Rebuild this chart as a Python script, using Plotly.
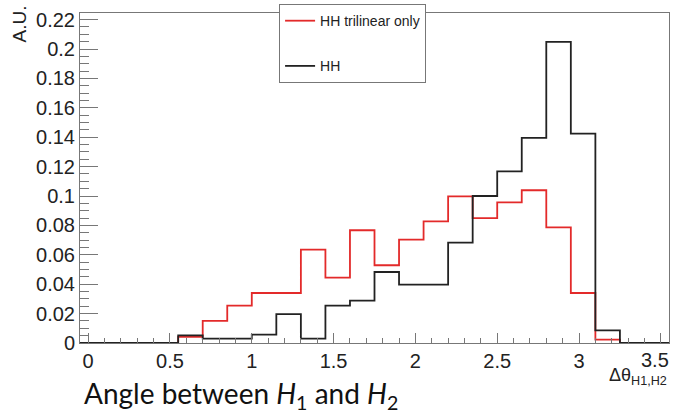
import plotly.graph_objects as go

# Bin edges (width 0.15, from -0.05 to 3.55)
bin_edges = [-0.05, 0.10, 0.25, 0.40, 0.55, 0.70, 0.85, 1.00, 1.15, 1.30, 1.45, 1.60,
             1.75, 1.90, 2.05, 2.20, 2.35, 2.50, 2.65, 2.80, 2.95, 3.10, 3.25, 3.40, 3.55]

hh_trilinear = [0, 0, 0, 0, 0.0041, 0.0150, 0.0254, 0.0340, 0.0340, 0.0635, 0.0445, 0.0767,
                0.0529, 0.0703, 0.0828, 0.0998, 0.0850, 0.0957, 0.1039, 0.0787, 0.0340, 0.0023, 0, 0]
hh_total = [0, 0, 0, 0, 0.0052, 0.0030, 0.0030, 0.0057, 0.0197, 0.0030, 0.0254, 0.0288,
            0.0483, 0.0397, 0.0397, 0.0683, 0.1000, 0.1168, 0.1395, 0.2048, 0.1424, 0.0086, 0, 0]

y_tickvals = [0, 0.02, 0.04, 0.06, 0.08, 0.1, 0.12, 0.14, 0.16, 0.18, 0.2, 0.22]
y_ticktext = ["0", "0.02", "0.04", "0.06", "0.08", "0.1", "0.12", "0.14", "0.16", "0.18", "0.2", "0.22"]
x_tickvals = [0, 0.5, 1, 1.5, 2, 2.5, 3]
x_ticktext = ["0", "0.5", "1", "1.5", "2", "2.5", "3"]
x_last_tick = 3.5
x_last_label = "3.5"

fig = go.Figure()
fig.add_trace(go.Scatter(x=bin_edges, y=hh_trilinear + [hh_trilinear[-1]], mode="lines",
                         line=dict(shape="hv", color="#e32a2a", width=1.8),
                         name="HH trilinear only", legendgroup="a"))
fig.add_trace(go.Scatter(x=bin_edges, y=hh_total + [hh_total[-1]], mode="lines",
                         line=dict(shape="hv", color="#222222", width=1.8),
                         name="HH", legendgroup="b"))

axis_font = dict(family="Liberation Sans, Arial, sans-serif", size=20, color="#222")
fig.update_layout(
    width=673, height=413,
    margin=dict(l=80, r=4, t=13, b=70),
    paper_bgcolor="white", plot_bgcolor="white",
    showlegend=True,
    legend=dict(x=0.338, y=1.027, xanchor="left", yanchor="top",
                bordercolor="#777", borderwidth=1, bgcolor="white",
                font=dict(family="Liberation Sans, Arial, sans-serif", size=14, color="#222"),
                tracegroupgap=24, itemwidth=30),
    xaxis=dict(range=[-0.05, 3.55], tickvals=x_tickvals + [x_last_tick],
               ticktext=x_ticktext + [""],
               ticks="inside", ticklen=10, tickcolor="#777", tickwidth=1,
               minor=dict(dtick=0.1, ticks="inside", ticklen=5, tickcolor="#777"),
               showline=True, linecolor="#777", linewidth=1, mirror=True,
               showgrid=False, zeroline=False, tickfont=axis_font),
    yaxis=dict(range=[0, 0.2245], tickvals=y_tickvals, ticktext=y_ticktext,
               ticks="inside", ticklen=18, tickcolor="#777", tickwidth=1,
               minor=dict(dtick=0.005, ticks="inside", ticklen=9, tickcolor="#777"),
               showline=True, linecolor="#777", linewidth=1, mirror=True,
               showgrid=False, zeroline=False, tickfont=axis_font),
    annotations=[
        dict(text=x_last_label, xref="paper", yref="paper", x=1.004, y=-0.012,
             xanchor="right", yanchor="top", showarrow=False, font=axis_font),
        dict(text="A.U.", xref="paper", yref="paper", x=-0.102, y=1.03,
             xanchor="center", yanchor="top", textangle=-90, showarrow=False,
             font=dict(family="Liberation Sans, Arial, sans-serif", size=19, color="#222")),
        dict(text="Δθ<sub>H1,H2</sub>", xref="paper", yref="paper", x=1.0, y=-0.06,
             xanchor="right", yanchor="top", showarrow=False,
             font=dict(family="Liberation Sans, Arial, sans-serif", size=18, color="#222")),
        dict(text="Angle between <i>H</i><sub>1</sub> and <i>H</i><sub>2</sub>",
             xref="paper", yref="paper", x=0.003, y=-0.222,
             xanchor="left", yanchor="bottom", showarrow=False,
             font=dict(family="Lato, sans-serif", size=28, color="#111")),
    ],
)

fig.write_html("out.html")
